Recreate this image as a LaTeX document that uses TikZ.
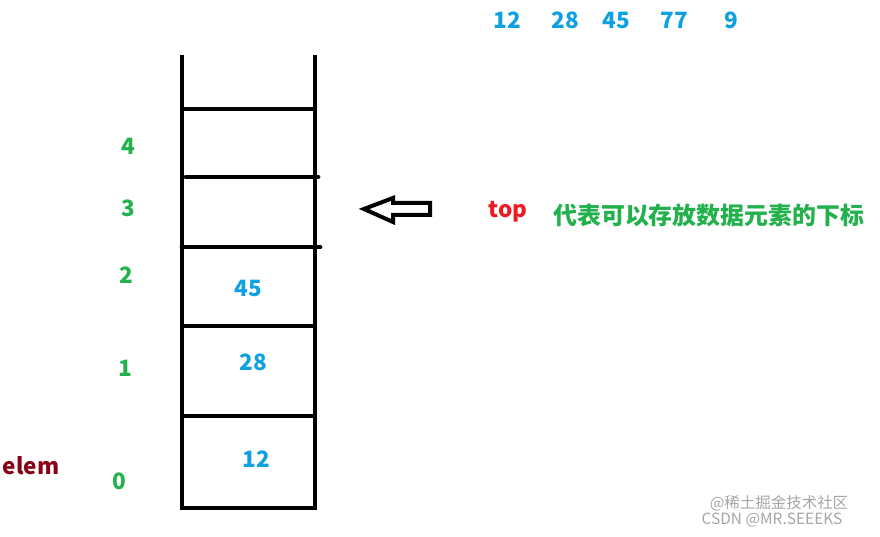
\documentclass[tikz,border=0pt]{standalone}
\usepackage{fontspec}
\setmainfont{Noto Sans CJK SC}
\definecolor{valblue}{HTML}{0EA0E0}
\definecolor{idxgreen}{HTML}{22B14C}
\definecolor{topred}{HTML}{ED1C24}
\definecolor{elemred}{HTML}{880015}
\tikzstyle{wall} = [line width=0.12cm, black]
\tikzstyle{value} = [font=\fontsize{16}{18}\selectfont\bfseries, text=valblue, inner sep=0pt]
\tikzstyle{index} = [font=\fontsize{16}{18}\selectfont\bfseries, text=idxgreen, inner sep=0pt]
\tikzstyle{note} = [font=\fontsize{16}{18}\selectfont\bfseries, inner sep=0pt]
\tikzstyle{pointer} = [draw=black, line width=0.1cm, line join=miter]
\tikzstyle{watermark} = [font=\fontsize{11}{12}\selectfont, text=black!35, inner sep=0pt]

\begin{document}
\begin{tikzpicture}[x=0.025cm, y=-0.025cm]
\useasboundingbox (0,0) rectangle (880,537);
% stack walls
\draw [wall] (182,55) -- (182,508) -- (315,508) -- (315,55);
\draw [wall] (182,109) -- (315,109);
\draw [wall, line cap=round] (186,177) -- (318,177);
\draw [wall, line cap=round] (182,247) -- (320,247);
\draw [wall] (182,326) -- (317,326);
\draw [wall] (182,416) -- (317,416);

% stored values
\node (cell 0) [value] at (256,459) {12};
\node (cell 1) [value] at (253,362) {28};
\node (cell 2) [value] at (248,288) {45};

% indices
\node (idx 0) [index] at (119,481) {0};
\node (idx 1) [index] at (125,368) {1};
\node (idx 2) [index] at (126,275) {2};
\node (idx 3) [index] at (128,208) {3};
\node (idx 4) [index] at (128,146) {4};
\node (elem) [note, text=elemred] at (31,466) {elem};

% input data
\node (in 12) [value] at (507,20) {12};
\node (in 28) [value] at (565,20) {28};
\node (in 45) [value] at (616,20) {45};
\node (in 77) [value] at (674,20) {77};
\node (in 9) [value] at (731,20) {9};

% top pointer (hollow arrow)
\draw [pointer] (364,209) -- (393,198) -- (393,203) -- (430,203) -- (430,215)
  -- (393,215) -- (393,222) -- cycle;
\node (top) [note, text=topred] at (508,212) {top};
\node (top text) [note, text=idxgreen, anchor=west, font=\fontsize{17}{19}\selectfont\bfseries] at (553,215) {代表可以存放数据元素的下标};

% watermark
\node (mark 1) [watermark] at (779,503) {@稀土掘金技术社区};
\node (mark 2) [watermark] at (772,520) {CSDN @MR.SEEEKS};
\end{tikzpicture}
\end{document}
